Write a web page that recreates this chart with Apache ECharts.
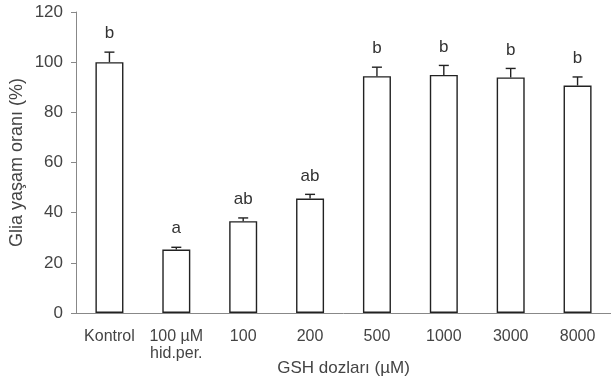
<!DOCTYPE html>
<html>
<head>
<meta charset="utf-8">
<script src="https://cdn.jsdelivr.net/npm/echarts@6/dist/echarts.min.js"></script>
<style>
  html, body { margin: 0; padding: 0; background: #fff; }
  #chart { width: 611px; height: 380px; }
</style>
</head>
<body>
<div id="chart"></div>
<script>
var categories = ["Kontrol", "100 µM\nhid.per.", "100", "200", "500", "1000", "3000", "8000"];
var means = [100, 25.3, 36.6, 45.6, 94.4, 94.9, 93.9, 90.7];
var errTops = [104, 26.2, 37.9, 47.3, 98, 98.7, 97.5, 94.1];
var letters = ["b", "a", "ab", "ab", "b", "b", "b", "b"];
var yTicks = [0, 20, 40, 60, 80, 100, 120];

var chart = echarts.init(document.getElementById("chart"));

var errData = categories.map(function (c, i) {
  return [i, means[i], errTops[i], letters[i]];
});

var option = {
  animation: false,
  textStyle: { fontFamily: "Liberation Sans, Arial, sans-serif" },
  grid: { left: 76, right: 0, top: 12, bottom: 67, outerBoundsMode: "none", containLabel: false },
  xAxis: {
    type: "category",
    data: categories,
    name: "GSH dozları (µM)",
    nameLocation: "middle",
    nameGap: 47,
    nameMoveOverlap: false,
    nameTextStyle: { fontSize: 17, color: "#444" },
    axisLine: { lineStyle: { color: "#888", width: 1 } },
    axisTick: { show: false },
    axisLabel: { color: "#444", fontSize: 16, margin: 15, lineHeight: 17, interval: 0 }
  },
  yAxis: {
    type: "value",
    min: 0,
    max: yTicks[yTicks.length - 1],
    interval: 20,
    name: "Glia yaşam oranı (%)",
    nameLocation: "middle",
    nameGap: 50,
    nameMoveOverlap: false,
    nameTextStyle: { fontSize: 18, color: "#444" },
    axisLine: { show: true, lineStyle: { color: "#888", width: 1 } },
    axisTick: { show: true, length: 5, lineStyle: { color: "#888" } },
    axisLabel: { color: "#444", fontSize: 17, margin: 13 },
    splitLine: { show: false }
  },
  series: [
    {
      type: "bar",
      data: means,
      barWidth: 28,
      itemStyle: { color: "#fff", borderColor: "#222", borderWidth: 1.4 }
    },
    {
      type: "custom",
      data: errData,
      z: 5,
      renderItem: function (params, api) {
        var x = api.value(0);
        var top = api.coord([x, api.value(1)]);
        var hi = api.coord([x, api.value(2)]);
        var half = 5;
        return {
          type: "group",
          children: [
            {
              type: "line",
              shape: { x1: top[0], y1: top[1], x2: hi[0], y2: hi[1] },
              style: { stroke: "#222", lineWidth: 1.4 }
            },
            {
              type: "line",
              shape: { x1: hi[0] - half, y1: hi[1], x2: hi[0] + half, y2: hi[1] },
              style: { stroke: "#222", lineWidth: 1.4 }
            },
            {
              type: "text",
              style: {
                x: hi[0],
                y: hi[1] - 10,
                text: api.value(3),
                fill: "#333",
                fontSize: 17,
                fontFamily: "Liberation Sans, Arial, sans-serif",
                align: "center",
                verticalAlign: "bottom"
              }
            }
          ]
        };
      }
    }
  ]
};

chart.setOption(option);
</script>
</body>
</html>
